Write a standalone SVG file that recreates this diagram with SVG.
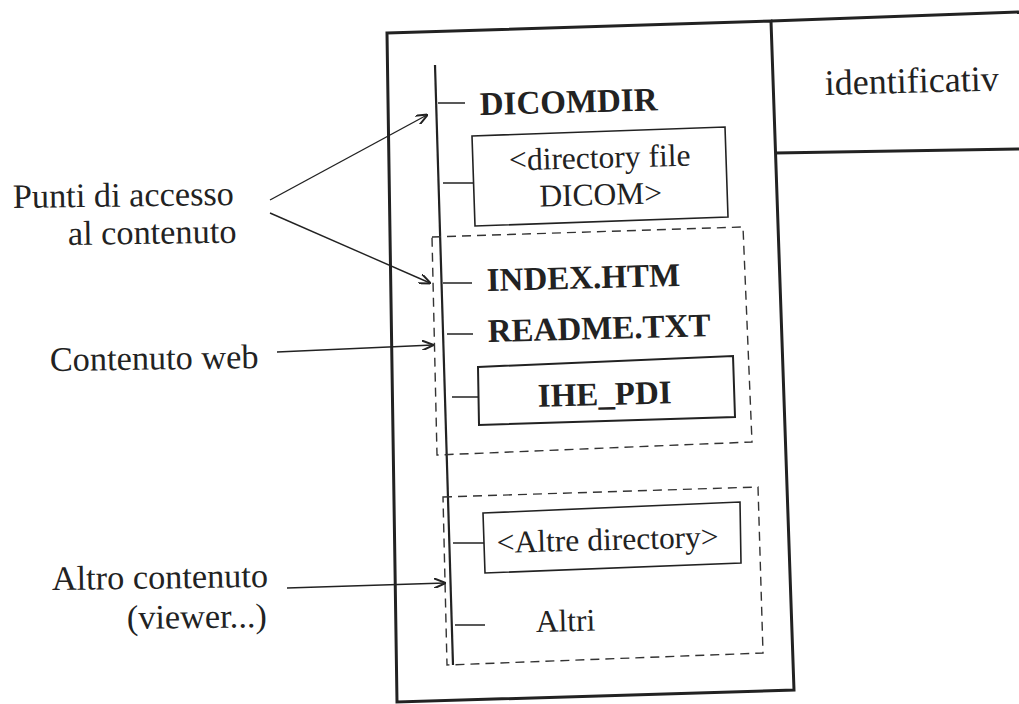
<svg xmlns="http://www.w3.org/2000/svg" width="1019" height="704" viewBox="0 0 1019 704">
<style>
.t{font-family:"Liberation Serif","Times New Roman",serif;font-size:31.5px;fill:#222}
.b{font-weight:bold;font-size:33px}
.lab{font-size:34.3px}
.box{fill:none;stroke:#222;stroke-width:1.6}
.frame{fill:none;stroke:#222;stroke-width:3}
.dash{fill:none;stroke:#333;stroke-width:1.4;stroke-dasharray:9 6}
.tick{stroke:#222;stroke-width:1.5}
.arr{stroke:#222;stroke-width:1.4;fill:none;marker-end:url(#ah)}
</style>
<defs>
<marker id="ah" viewBox="0 0 12 10" refX="11" refY="5" markerWidth="12" markerHeight="10" markerUnits="userSpaceOnUse" orient="auto">
<path d="M0,0 L12,5 L0,10" fill="none" stroke="#222" stroke-width="2"/>
</marker>
</defs>
<rect width="1019" height="704" fill="#fff"/>
<g id="frame">
<polygon class="frame" points="387,33 771,21 794,690 397,702"/>
<polyline class="frame" points="771,21 1019,12"/>
<polyline class="frame" points="775,153 1019,149"/>
<line class="tick" x1="435" y1="65" x2="453" y2="665" style="stroke-width:2.2"/>
</g>
<g id="identificativ">
<text class="t" x="825" y="95" style="font-size:36px" transform="rotate(-1.5 825 95)">identificativ</text>
</g>
<g id="dicomdir">
<line class="tick" x1="438" y1="103" x2="465" y2="103"/>
<text class="t b" x="480" y="115" transform="rotate(-1.5 480 115)">DICOMDIR</text>
</g>
<g id="directory-file">
<line class="tick" x1="443" y1="183" x2="473" y2="183"/>
<polygon class="box" points="472,136 725,127 728,217 475,226"/>
<text class="t" x="600" y="168" text-anchor="middle" transform="rotate(-1.5 600 168)">&lt;directory file</text>
<text class="t" x="601" y="205" text-anchor="middle" transform="rotate(-1.5 601 205)">DICOM&gt;</text>
</g>
<g id="web-group">
<polygon class="dash" points="432,237 743,227 752,442 437,455"/>
</g>
<g id="index">
<line class="tick" x1="443" y1="283" x2="472" y2="283"/>
<text class="t b" x="487" y="291" transform="rotate(-1.5 487 291)">INDEX.HTM</text>
</g>
<g id="readme">
<line class="tick" x1="447" y1="334" x2="473" y2="334"/>
<text class="t b" x="488" y="342" transform="rotate(-1.5 488 342)">README.TXT</text>
</g>
<g id="ihe-pdi">
<line class="tick" x1="452" y1="397" x2="479" y2="397"/>
<polygon class="box" points="478,367 733,356 735,417 479,425" style="stroke-width:2"/>
<text class="t b" x="605" y="405" text-anchor="middle" transform="rotate(-1.5 605 405)">IHE_PDI</text>
</g>
<g id="other-group">
<polygon class="dash" points="443,497 758,487 763,653 447,665"/>
</g>
<g id="altre-directory">
<line class="tick" x1="453" y1="543" x2="484" y2="543"/>
<polygon class="box" points="483,513 740,502 741,563 485,573"/>
<text class="t" x="608" y="550" text-anchor="middle" transform="rotate(-1.5 608 550)">&lt;Altre directory&gt;</text>
</g>
<g id="altri">
<line class="tick" x1="455" y1="625" x2="485" y2="625"/>
<text class="t" x="536" y="632" transform="rotate(-1.5 536 632)">Altri</text>
</g>
<g id="label-punti">
<text class="t lab" x="13" y="208" transform="rotate(-0.8 13 208)">Punti di accesso</text>
<text class="t lab" x="68" y="245" transform="rotate(-0.8 68 245)">al contenuto</text>
</g>
<g id="label-web">
<text class="t lab" x="50" y="371" transform="rotate(-0.8 50 371)">Contenuto web</text>
</g>
<g id="label-altro">
<text class="t lab" x="52" y="590" transform="rotate(-0.8 52 590)">Altro contenuto</text>
<text class="t lab" x="127" y="629" transform="rotate(-0.8 127 629)">(viewer...)</text>
</g>
<g id="connectors">
<line class="arr" x1="270" y1="200" x2="427" y2="115"/>
<line class="arr" x1="270" y1="213" x2="430" y2="283"/>
<line class="arr" x1="277" y1="352" x2="433" y2="345"/>
<line class="arr" x1="287" y1="588" x2="445" y2="583"/>
</g>
</svg>
